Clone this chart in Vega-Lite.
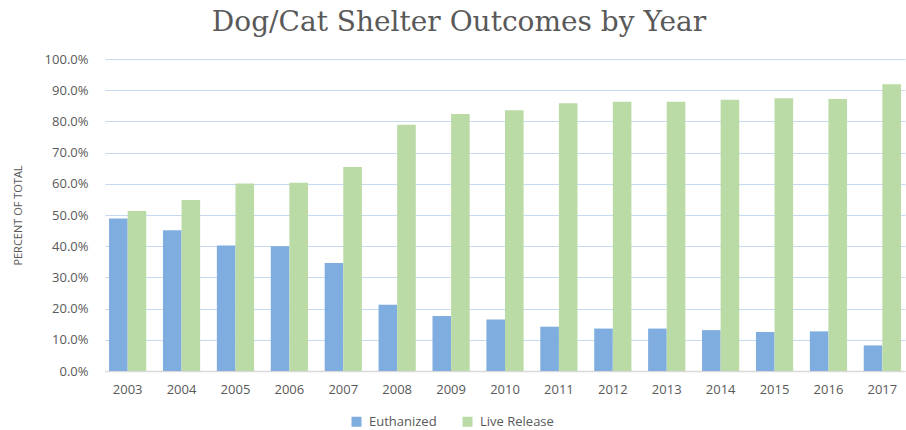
{
  "$schema": "https://vega.github.io/schema/vega-lite/v6.json",
  "autosize": {"type": "none"},
  "width": 800,
  "height": 312,
  "padding": {"left": 105, "top": 59, "right": 1, "bottom": 59},
  "background": "white",
  "title": {
    "text": "Dog/Cat Shelter Outcomes by Year",
    "font": "DejaVu Serif",
    "fontSize": 28,
    "fontWeight": "normal",
    "color": "#595959",
    "anchor": "middle",
    "dx": -46,
    "offset": 16
  },
  "data": {
    "values": [
      {"year": "2003", "type": "Euthanized", "value": 0.489},
      {"year": "2003", "type": "Live Release", "value": 0.513},
      {"year": "2004", "type": "Euthanized", "value": 0.451},
      {"year": "2004", "type": "Live Release", "value": 0.548},
      {"year": "2005", "type": "Euthanized", "value": 0.402},
      {"year": "2005", "type": "Live Release", "value": 0.601},
      {"year": "2006", "type": "Euthanized", "value": 0.400},
      {"year": "2006", "type": "Live Release", "value": 0.603},
      {"year": "2007", "type": "Euthanized", "value": 0.346},
      {"year": "2007", "type": "Live Release", "value": 0.654},
      {"year": "2008", "type": "Euthanized", "value": 0.212},
      {"year": "2008", "type": "Live Release", "value": 0.789},
      {"year": "2009", "type": "Euthanized", "value": 0.176},
      {"year": "2009", "type": "Live Release", "value": 0.824},
      {"year": "2010", "type": "Euthanized", "value": 0.165},
      {"year": "2010", "type": "Live Release", "value": 0.836},
      {"year": "2011", "type": "Euthanized", "value": 0.142},
      {"year": "2011", "type": "Live Release", "value": 0.858},
      {"year": "2012", "type": "Euthanized", "value": 0.136},
      {"year": "2012", "type": "Live Release", "value": 0.863},
      {"year": "2013", "type": "Euthanized", "value": 0.136},
      {"year": "2013", "type": "Live Release", "value": 0.863},
      {"year": "2014", "type": "Euthanized", "value": 0.131},
      {"year": "2014", "type": "Live Release", "value": 0.869},
      {"year": "2015", "type": "Euthanized", "value": 0.125},
      {"year": "2015", "type": "Live Release", "value": 0.874},
      {"year": "2016", "type": "Euthanized", "value": 0.127},
      {"year": "2016", "type": "Live Release", "value": 0.872},
      {"year": "2017", "type": "Euthanized", "value": 0.082},
      {"year": "2017", "type": "Live Release", "value": 0.919}
    ]
  },
  "mark": {"type": "bar"},
  "encoding": {
    "x": {
      "field": "year",
      "type": "nominal",
      "scale": {"paddingInner": 0.31, "paddingOuter": 0.075},
      "axis": {
        "title": null,
        "labelAngle": 0,
        "labelFont": "Open Sans",
        "labelFontSize": 13,
        "labelColor": "#595959",
        "labelPadding": 12,
        "ticks": false,
        "domainColor": "#D9D9D9",
        "domainWidth": 1.5
      }
    },
    "xOffset": {"field": "type", "type": "nominal", "scale": {"paddingInner": 0}},
    "y": {
      "field": "value",
      "type": "quantitative",
      "scale": {"domain": [0, 1], "nice": false},
      "axis": {
        "title": "PERCENT OF TOTAL",
        "titleFont": "Open Sans",
        "titleFontSize": 11,
        "titleFontWeight": "normal",
        "titleColor": "#595959",
        "titleX": -82,
        "format": ".1%",
        "values": [0, 0.1, 0.2, 0.3, 0.4, 0.5, 0.6, 0.7, 0.8, 0.9, 1.0],
        "labelFont": "Open Sans",
        "labelFontSize": 13,
        "labelColor": "#595959",
        "labelPadding": 17,
        "ticks": false,
        "domain": false,
        "gridColor": "#C5D9F1",
        "gridWidth": 1.2
      }
    },
    "color": {
      "field": "type",
      "type": "nominal",
      "scale": {"domain": ["Euthanized", "Live Release"], "range": ["#80ADDF", "#BBDBA6"]},
      "legend": {
        "title": null,
        "orient": "none",
        "direction": "horizontal",
        "legendX": 245,
        "legendY": 356,
        "symbolType": "square",
        "symbolSize": 100,
        "symbolStrokeWidth": 0,
        "labelFont": "Open Sans",
        "labelFontSize": 13,
        "labelColor": "#595959",
        "labelLimit": 300,
        "columnPadding": 24,
        "labelOffset": 6
      }
    }
  },
  "config": {"view": {"stroke": null}}
}
